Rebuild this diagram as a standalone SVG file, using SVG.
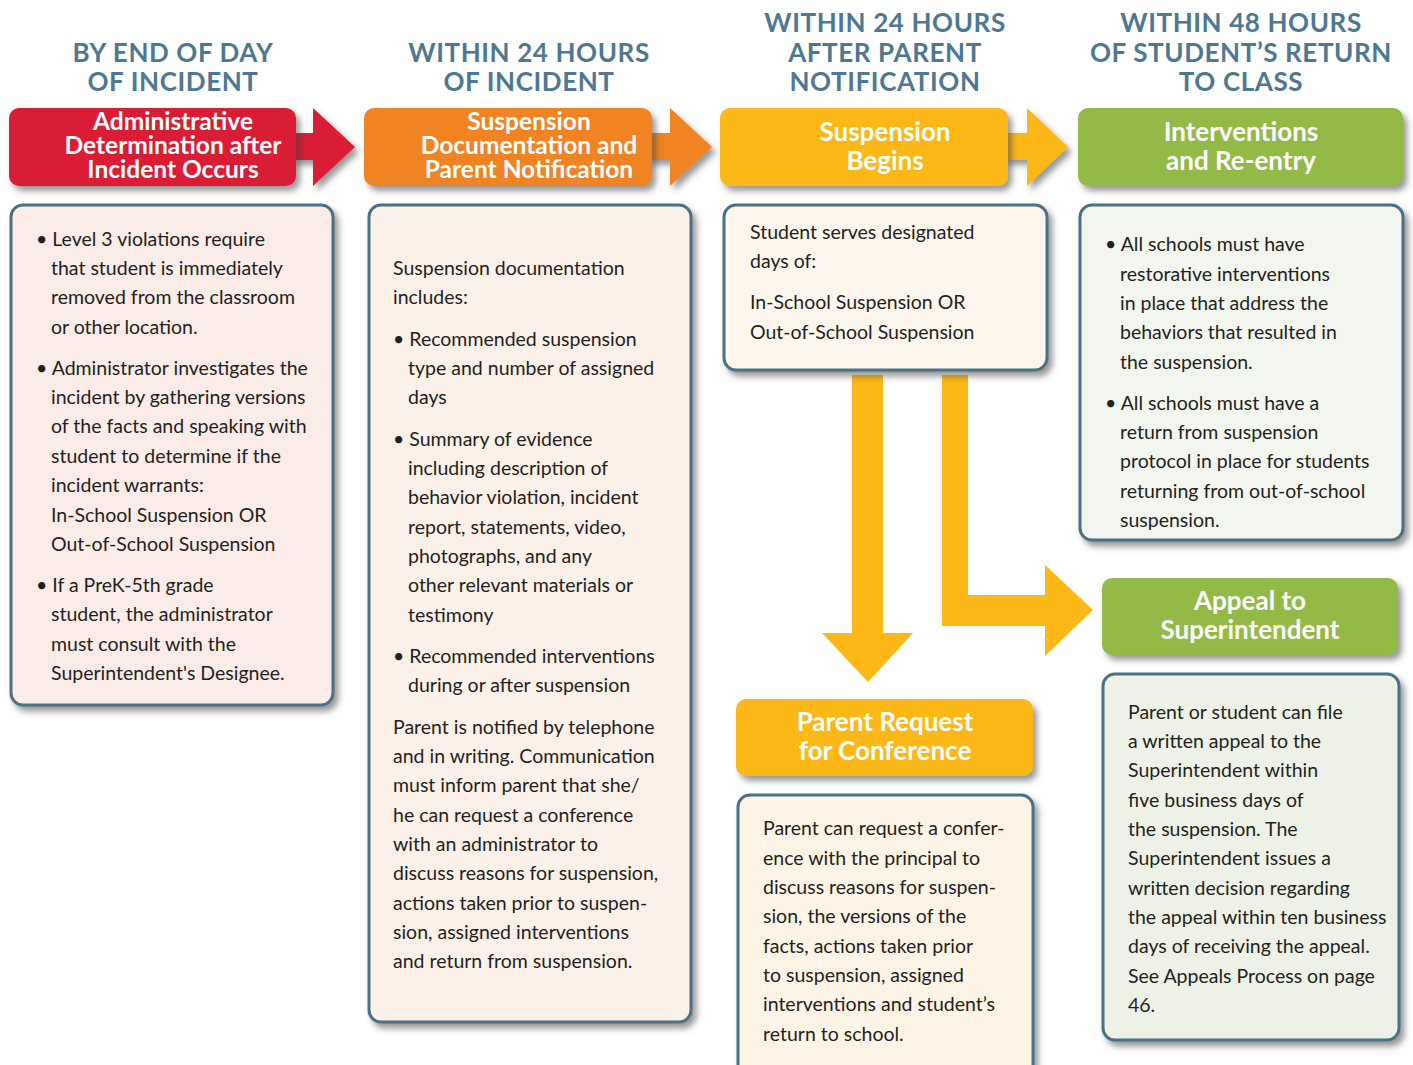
<svg xmlns="http://www.w3.org/2000/svg" width="1413" height="1065" viewBox="0 0 1413 1065">
<defs>
<filter id="sh" x="-10%" y="-10%" width="130%" height="140%">
<feDropShadow dx="4" dy="5" stdDeviation="3" flood-color="#444" flood-opacity="0.55"/>
</filter>
<style>
.col{font-family:Lato,"Open Sans",sans-serif;font-weight:bold;font-size:26px;fill:#4E7891;text-anchor:middle;letter-spacing:0.6px}
.hd{font-family:Lato,"Open Sans",sans-serif;font-weight:bold;font-size:25px;fill:#fff;text-anchor:middle}
.hd3{font-size:24.5px}
.bx{stroke:#4B7184;stroke-width:3;filter:url(#sh)}
.tx{font-family:Lato,"Open Sans",sans-serif;font-size:19.5px;fill:#231F20}
.red{fill:#DB1A35}.org{fill:#F08424}.yel{fill:#FBB817}.grn{fill:#93BA47}
</style>
</defs>
<rect width="1413" height="1065" fill="#fff"/>

<g id="col-titles">
<text class="col" x="173" y="62">BY END OF DAY</text>
<text class="col" x="173" y="91">OF INCIDENT</text>
<text class="col" x="529" y="62">WITHIN 24 HOURS</text>
<text class="col" x="529" y="91">OF INCIDENT</text>
<text class="col" x="885" y="32">WITHIN 24 HOURS</text>
<text class="col" x="885" y="62">AFTER PARENT</text>
<text class="col" x="885" y="91">NOTIFICATION</text>
<text class="col" x="1241" y="32">WITHIN 48 HOURS</text>
<text class="col" x="1241" y="62">OF STUDENT’S RETURN</text>
<text class="col" x="1241" y="91">TO CLASS</text>
</g>

<g id="connectors">
<polygon class="red" filter="url(#sh)" points="290,133 313,133 313,108 355,147 313,186 313,160 290,160"/>
<polygon class="org" filter="url(#sh)" points="646,133 670,133 670,108 712,147 670,186 670,160 646,160"/>
<polygon class="yel" filter="url(#sh)" points="1002,133 1027,133 1027,108 1068,147 1027,186 1027,160 1002,160"/>
<polygon class="yel" points="852,375 883,375 883,633 913,633 868,682 822,633 852,633"/>
<polygon class="yel" points="942,375 968,375 968,595 1045,595 1045,565 1093,610 1045,656 1045,626 942,626"/>
</g>

<g id="n-admin">
<rect class="red" filter="url(#sh)" x="9" y="108" width="287" height="78" rx="10"/>
<text class="hd hd3" x="173" y="130">Administrative</text>
<text class="hd hd3" x="173" y="154">Determination after</text>
<text class="hd hd3" x="173" y="178">Incident Occurs</text>
</g>
<g id="n-doc">
<rect class="org" filter="url(#sh)" x="364" y="108" width="288" height="78" rx="10"/>
<text class="hd hd3" x="529" y="130">Suspension</text>
<text class="hd hd3" x="529" y="154">Documentation and</text>
<text class="hd hd3" x="529" y="178">Parent Notification</text>
</g>
<g id="n-begins">
<rect class="yel" filter="url(#sh)" x="720" y="108" width="288" height="78" rx="10"/>
<text class="hd" x="885" y="141" style="font-size:26px">Suspension</text>
<text class="hd" x="885" y="170" style="font-size:26px">Begins</text>
</g>
<g id="n-interv">
<rect class="grn" filter="url(#sh)" x="1078" y="108" width="325" height="78" rx="10"/>
<text class="hd" x="1241" y="141" style="font-size:26px">Interventions</text>
<text class="hd" x="1241" y="170" style="font-size:26px">and Re-entry</text>
</g>
<g id="n-conf">
<rect class="yel" filter="url(#sh)" x="736" y="699" width="297" height="77" rx="10"/>
<text class="hd" x="885" y="731" style="font-size:26px">Parent Request</text>
<text class="hd" x="885" y="760" style="font-size:26px">for Conference</text>
</g>
<g id="n-appeal">
<rect class="grn" filter="url(#sh)" x="1102" y="578" width="296" height="77" rx="10"/>
<text class="hd" x="1250" y="610" style="font-size:26px">Appeal to</text>
<text class="hd" x="1250" y="639" style="font-size:26px">Superintendent</text>
</g>

<g id="b-admin">
<rect class="bx" x="11" y="205" width="322" height="500" rx="12" fill="#FBECE7"/>
<g class="tx">
<text x="36" y="246">• Level 3 violations require</text>
<text x="51" y="275">that student is immediately</text>
<text x="51" y="304">removed from the classroom</text>
<text x="51" y="334">or other location.</text>
<text x="36" y="375">• Administrator investigates the</text>
<text x="51" y="404">incident by gathering versions</text>
<text x="51" y="433">of the facts and speaking with</text>
<text x="51" y="463">student to determine if the</text>
<text x="51" y="492">incident warrants:</text>
<text x="51" y="522">In-School Suspension OR</text>
<text x="51" y="551">Out-of-School Suspension</text>
<text x="36" y="592">• If a PreK-5th grade</text>
<text x="51" y="621">student, the administrator</text>
<text x="51" y="651">must consult with the</text>
<text x="51" y="680">Superintendent's Designee.</text>
</g>
</g>

<g id="b-doc">
<rect class="bx" x="369" y="205" width="322" height="817" rx="12" fill="#FCF1E8"/>
<g class="tx">
<text x="393" y="275">Suspension documentation</text>
<text x="393" y="304">includes:</text>
<text x="393" y="346">• Recommended suspension</text>
<text x="408" y="375">type and number of assigned</text>
<text x="408" y="404">days</text>
<text x="393" y="446">• Summary of evidence</text>
<text x="408" y="475">including description of</text>
<text x="408" y="504">behavior violation, incident</text>
<text x="408" y="534">report, statements, video,</text>
<text x="408" y="563">photographs, and any</text>
<text x="408" y="592">other relevant materials or</text>
<text x="408" y="622">testimony</text>
<text x="393" y="663">• Recommended interventions</text>
<text x="408" y="692">during or after suspension</text>
<text x="393" y="734">Parent is notified by telephone</text>
<text x="393" y="763">and in writing. Communication</text>
<text x="393" y="792">must inform parent that she/</text>
<text x="393" y="822">he can request a conference</text>
<text x="393" y="851">with an administrator to</text>
<text x="393" y="880">discuss reasons for suspension,</text>
<text x="393" y="910">actions taken prior to suspen-</text>
<text x="393" y="939">sion, assigned interventions</text>
<text x="393" y="968">and return from suspension.</text>
</g>
</g>

<g id="b-begins">
<rect class="bx" x="724" y="205" width="323" height="165" rx="12" fill="#FCF6EC"/>
<g class="tx">
<text x="750" y="239">Student serves designated</text>
<text x="750" y="268">days of:</text>
<text x="750" y="309">In-School Suspension OR</text>
<text x="750" y="339">Out-of-School Suspension</text>
</g>
</g>

<g id="b-interv">
<rect class="bx" x="1080" y="205" width="323" height="335" rx="12" fill="#F3F6EE"/>
<g class="tx">
<text x="1105" y="251">• All schools must have</text>
<text x="1120" y="281">restorative interventions</text>
<text x="1120" y="310">in place that address the</text>
<text x="1120" y="339">behaviors that resulted in</text>
<text x="1120" y="369">the suspension.</text>
<text x="1105" y="410">• All schools must have a</text>
<text x="1120" y="439">return from suspension</text>
<text x="1120" y="468">protocol in place for students</text>
<text x="1120" y="498">returning from out-of-school</text>
<text x="1120" y="527">suspension.</text>
</g>
</g>

<g id="b-conf">
<rect class="bx" x="738" y="795" width="295" height="290" rx="12" fill="#FDF4E6"/>
<g class="tx">
<text x="763" y="835">Parent can request a confer-</text>
<text x="763" y="865">ence with the principal to</text>
<text x="763" y="894">discuss reasons for suspen-</text>
<text x="763" y="923">sion, the versions of the</text>
<text x="763" y="953">facts, actions taken prior</text>
<text x="763" y="982">to suspension, assigned</text>
<text x="763" y="1011">interventions and student’s</text>
<text x="763" y="1041">return to school.</text>
</g>
</g>

<g id="b-appeal">
<rect class="bx" x="1103" y="674" width="296" height="366" rx="12" fill="#EEF2E6"/>
<g class="tx">
<text x="1128" y="719">Parent or student can file</text>
<text x="1128" y="748">a written appeal to the</text>
<text x="1128" y="777">Superintendent within</text>
<text x="1128" y="807">five business days of</text>
<text x="1128" y="836">the suspension. The</text>
<text x="1128" y="865">Superintendent issues a</text>
<text x="1128" y="895">written decision regarding</text>
<text x="1128" y="924">the appeal within ten business</text>
<text x="1128" y="953">days of receiving the appeal.</text>
<text x="1128" y="983">See Appeals Process on page</text>
<text x="1128" y="1012">46.</text>
</g>
</g>
</svg>
